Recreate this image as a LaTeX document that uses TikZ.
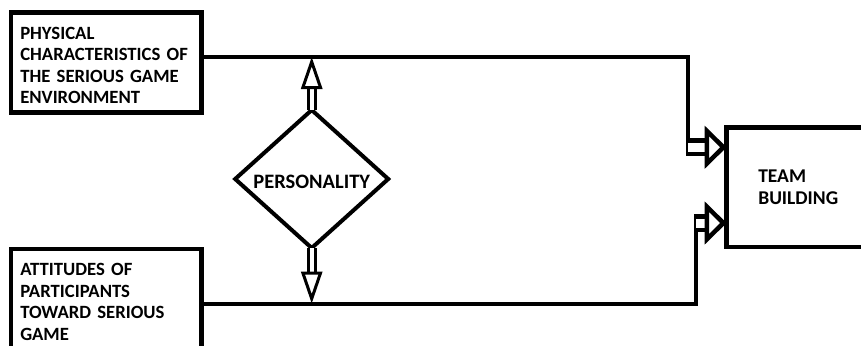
\documentclass[tikz,border=0pt]{standalone}
\usepackage{fontspec}
\setmainfont{Carlito}
\usetikzlibrary{arrows.meta,positioning,shapes.geometric,calc}

\begin{document}
\begin{tikzpicture}[
      x=1pt, y=-1pt,
      node distance=136.5pt,
      box/.style={rectangle, draw, line width=4.5pt, outer sep=0pt, minimum height=100pt, inner xsep=9.25pt, text width=172pt, align=left, font=\bfseries\fontsize{18.7pt}{21.5pt}\selectfont, execute at begin node=\rule{0pt}{18pt}},
      decision/.style={diamond, draw, line width=4pt, outer sep=0pt, inner sep=0pt, minimum width=153pt, minimum height=138pt, font=\bfseries\fontsize{20.5pt}{21.5pt}\selectfont},
      link/.style={line width=4pt},
      hollow/.style={line width=4.5pt, double=white, double distance=9pt, -{Triangle[open, length=22pt, width=42pt]}},
      vhollow/.style={line width=3pt, double=white, double distance=4.3pt, -{Triangle[open, length=32pt, width=21pt]}}
    ]
      \useasboundingbox (0,0) rectangle (861,345);

      \node[box] (phys) at (106.25,62.5) {PHYSICAL\\CHARACTERISTICS OF\\THE SERIOUS GAME\\ENVIRONMENT};
      \node[box, below=of phys] (attit) {ATTITUDES OF\\PARTICIPANTS\\TOWARD SERIOUS\\GAME};
      \node[decision] (pers) at (311.7,179) {\rule{0pt}{20pt}PERSONALITY};
      \node[box, minimum height=119.5pt, inner xsep=31.6pt, text width=100pt, font=\bfseries\fontsize{19.5pt}{21.5pt}\selectfont, execute at begin node={}] (team) at (808.3,187.25) {TEAM\\BUILDING\rule[-6pt]{0pt}{6pt}};

      \coordinate (topl) at ([yshift=5.5pt]phys.east);
      \coordinate (botl) at ([yshift=-4.5pt]attit.east);
      \coordinate (bendA) at (688,156);
      \coordinate (bendB) at (696,214);
      \coordinate (tipA) at ([yshift=40pt]team.west);
      \coordinate (tipB) at ([yshift=-35.75pt]team.west);

      \draw[link] (topl) -| (bendA);
      \draw[link] (botl) -| (bendB);
      \draw[hollow] (bendA |- tipA) -- (tipA);
      \draw[hollow] (bendB |- tipB) -- (tipB);

      \draw[vhollow] (pers.north) -- (pers.north |- topl);
      \draw[vhollow] (pers.south) -- (pers.south |- botl);
    \end{tikzpicture}
\end{document}
